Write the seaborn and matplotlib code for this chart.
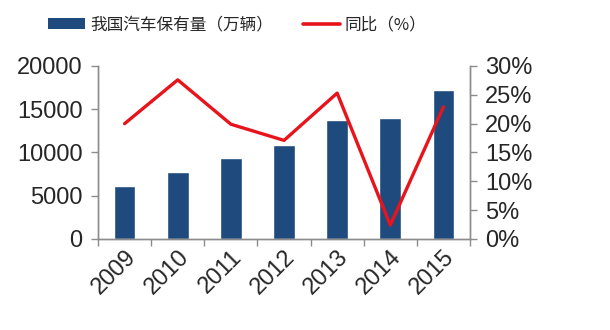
import numpy as np
import pandas as pd
import matplotlib
matplotlib.use("Agg")
import matplotlib.pyplot as plt
import seaborn as sns
from matplotlib.patches import Patch
from matplotlib.lines import Line2D
from matplotlib.ticker import FuncFormatter, FixedLocator

years = ["2009", "2010", "2011", "2012", "2013", "2014", "2015"]
ownership = [6100, 7800, 9350, 10900, 13700, 14000, 17200]   # 万辆
yoy_pct = [20.0, 27.6, 19.9, 17.1, 25.3, 2.4, 22.9]          # %

bar_label = "我国汽车保有量（万辆）"
line_label = "同比（%）"

sns.set_theme(style="white")
plt.rcParams["font.family"] = ["Liberation Sans", "Noto Sans CJK SC", "DejaVu Sans"]

bar_color = "#1F4A7E"
line_color = "#E8141B"
spine_color = "#8C8C8C"

df = pd.DataFrame({"year": years, "own": ownership, "yoy": yoy_pct})
df["pos"] = np.arange(len(years))

fig = plt.figure(figsize=(6.1, 3.3), dpi=100)
ax = fig.add_axes([0.1607, 0.2758, 0.6098, 0.5242])

sns.barplot(data=df, x="year", y="own", color=bar_color, width=0.41,
            saturation=1, ax=ax)
ax.set_xlim(-0.5, len(years) - 0.5)
ax.set_ylim(0, 20000)
ax.set_yticks([0, 5000, 10000, 15000, 20000])
ax.set_xlabel("")
ax.set_ylabel("")

ax2 = ax.twinx()
sns.lineplot(data=df, x="pos", y="yoy", color=line_color, linewidth=2.4,
             ax=ax2, legend=False)
ax2.set_ylim(0, 30)
ax2.set_yticks(range(0, 31, 5))
ax2.yaxis.set_major_formatter(FuncFormatter(lambda v, _: f"{v:.0f}%"))
ax2.set_xlim(-0.5, len(years) - 0.5)
ax2.set_xlabel("")
ax2.set_ylabel("")

for a in (ax, ax2):
    a.spines["top"].set_visible(False)
    for side in ("left", "right", "bottom"):
        a.spines[side].set_color(spine_color)
        a.spines[side].set_linewidth(1.0)

# category boundaries carry the tick marks on the x axis
ax.xaxis.set_minor_locator(FixedLocator(np.arange(-0.5, len(years), 1.0)))
ax.tick_params(axis="x", which="major", length=0, pad=5)
ax.tick_params(axis="x", which="minor", length=5, color=spine_color,
               width=1.0, direction="out", bottom=True)
ax.tick_params(axis="y", length=5, color=spine_color, width=1.0,
               direction="out", left=True, labelsize=17, pad=6)
ax2.tick_params(axis="y", length=5, color=spine_color, width=1.0,
                direction="out", right=True, labelsize=17, pad=6)

for lbl in ax.get_xticklabels():
    lbl.set_rotation(45)
    lbl.set_ha("right")
    lbl.set_rotation_mode("anchor")
    lbl.set_fontsize(17)

handles = [Patch(facecolor=bar_color, edgecolor="none"),
           Line2D([0], [0], color=line_color, linewidth=2.6)]
fig.legend(handles, [bar_label, line_label], loc="center",
           bbox_to_anchor=(0.389, 0.925), ncol=2, frameon=False,
           prop={"family": ["Noto Sans CJK SC", "DejaVu Sans"], "size": 12},
           handlelength=2.2, handleheight=0.6, handletextpad=0.3,
           columnspacing=1.8)

fig.savefig("out.png", dpi=100)
